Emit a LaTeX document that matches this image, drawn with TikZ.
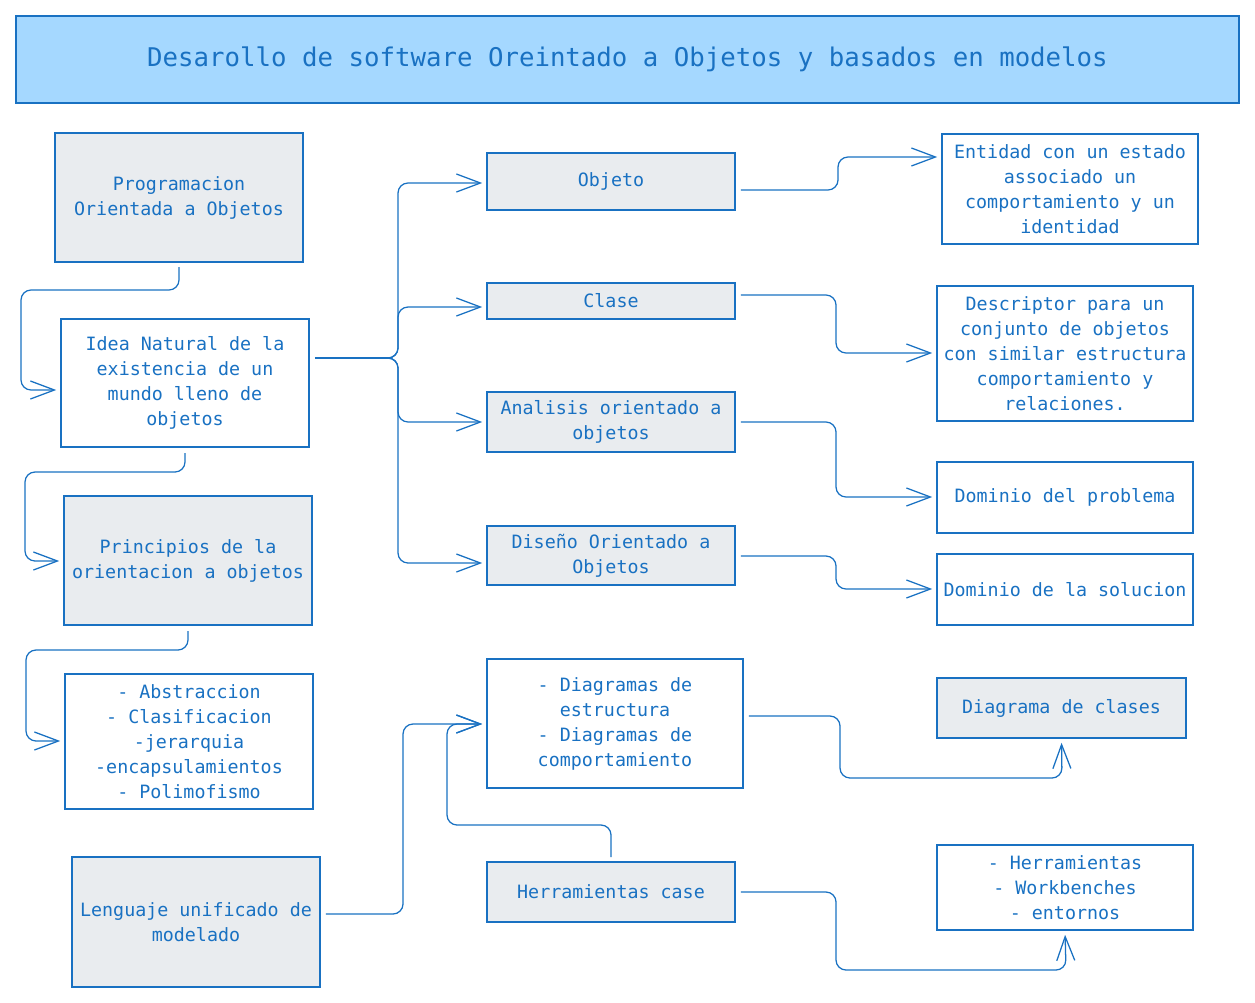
\documentclass[tikz,border=0pt]{standalone}
\usepackage{fontspec}
\setmainfont{DejaVu Sans Mono}
\usetikzlibrary{arrows.meta,calc}
\definecolor{ink}{HTML}{1971C2}
\definecolor{greyfill}{HTML}{E9ECEF}
\definecolor{titlefill}{HTML}{A5D8FF}
\begin{document}
\begin{tikzpicture}[x=0.75pt,y=-0.75pt,
  bx/.style 2 args={draw=ink,line width=1.2pt,text=ink,inner sep=0pt,align=center,
    minimum width=#1*0.75pt,minimum height=#2*0.75pt,
    font=\fontsize{13.75pt}{18.75pt}\selectfont},
  grey/.style={fill=greyfill},
  conn/.style={draw=ink,line width=0.95pt,rounded corners=7.5pt,
    -{Straight Barb[length=18pt,width=13.5pt,line width=0.95pt]},shorten >=3pt},
  plain/.style={draw=ink,line width=0.95pt,rounded corners=7.5pt}]
\useasboundingbox (0,0) rectangle (1255,1002);
% title
\node[bx={1223}{87},fill=titlefill,font=\fontsize{19.3pt}{24pt}\selectfont] (title) at (627.5,59.5)
  {Desarollo de software Oreintado a Objetos y basados en modelos};
% left column
\node[bx={248}{129},grey] (prog) at (179,197.5) {Programacion\\Orientada a Objetos};
\node[bx={248}{128}] (idea) at (185,383) {Idea Natural de la\\existencia de un\\mundo lleno de\\objetos};
\node[bx={248}{129},grey] (princ) at (188,560.5) {Principios de la\\orientacion a objetos};
\node[bx={248}{135}] (abst) at (189,741.5) {- Abstraccion\\- Clasificacion\\-jerarquia\\-encapsulamientos\\- Polimofismo};
\node[bx={248}{130},grey] (len) at (196,922) {Lenguaje unificado de\\modelado};
% middle column
\node[bx={248}{57},grey] (obj) at (611,181.5) {Objeto};
\node[bx={248}{36},grey] (cla) at (611,301) {Clase};
\node[bx={248}{60},grey] (ana) at (611,422) {Analisis orientado a\\objetos};
\node[bx={248}{59},grey] (dis) at (611,555.5) {Diseño Orientado a\\Objetos};
\node[bx={256}{129}] (diag) at (615,723.5) {- Diagramas de\\estructura\\- Diagramas de\\comportamiento};
\node[bx={248}{60},grey] (hc) at (611,892) {Herramientas case};
% right column
\node[bx={256}{110}] (ent) at (1070,189) {Entidad con un estado\\associado un\\comportamiento y un\\identidad};
\node[bx={256}{135}] (desc) at (1065,353.5) {Descriptor para un\\conjunto de objetos\\con similar estructura\\comportamiento y\\relaciones.};
\node[bx={256}{71}] (dp) at (1065,497.5) {Dominio del problema};
\node[bx={256}{71}] (ds) at (1065,589.5) {Dominio de la solucion};
\node[bx={249}{60},grey] (dc) at (1061.5,708) {Diagrama de clases};
\node[bx={256}{85}] (hl) at (1065,887.5) {- Herramientas\\- Workbenches\\- entornos};
% connectors left chain
\draw[conn] (prog.south |- 0,267) -- (179,290) -- (21,290) -- (21,390) -- (idea.west |- 0,390);
\draw[conn] (idea.south |- 0,453) -- (185,472) -- (25,472) -- (25,561) -- (princ.west |- 0,561);
\draw[conn] (princ.south |- 0,631) -- (188,650) -- (26,650) -- (26,741) -- (abst.west |- 0,741);
% branch from idea
\draw[plain] (idea.east |- 0,358) ++(5,0) -- (388,358);
\draw[conn] (388,358) -- (398,358) -- (398,183) -- (obj.west |- 0,183);
\draw[conn] (388,358) -- (398,358) -- (398,307) -- (cla.west |- 0,307);
\draw[conn] (388,358) -- (398,358) -- (398,422) -- (ana.west |- 0,422);
\draw[conn] (388,358) -- (398,358) -- (398,563) -- (dis.west |- 0,563);
% to right column
\draw[conn] (obj.east |- 0,190) ++(5,0) -- (838,190) -- (838,157) -- (ent.west |- 0,157);
\draw[conn] (cla.east |- 0,295) ++(5,0) -- (836,295) -- (836,353) -- (desc.west |- 0,353);
\draw[conn] (ana.east |- 0,422) ++(5,0) -- (836,422) -- (836,497) -- (dp.west |- 0,497);
\draw[conn] (dis.east |- 0,556) ++(5,0) -- (836,556) -- (836,589) -- (ds.west |- 0,589);
\draw[conn] (diag.east |- 0,716) ++(5,0) -- (840,716) -- (840,778) -- (1062,778) -- (dc.south);
\draw[conn] (hc.east |- 0,892) ++(5,0) -- (836,892) -- (836,970) -- (1066,970) -- (hl.south);
% into diagramas
\draw[conn] (len.east |- 0,914) ++(5,0) -- (403,914) -- (403,724) -- (diag.west |- 0,724);
\draw[conn] (hc.north |- 0,857) -- (611,825) -- (447,825) -- (447,724) -- (diag.west |- 0,724);
\end{tikzpicture}
\end{document}
